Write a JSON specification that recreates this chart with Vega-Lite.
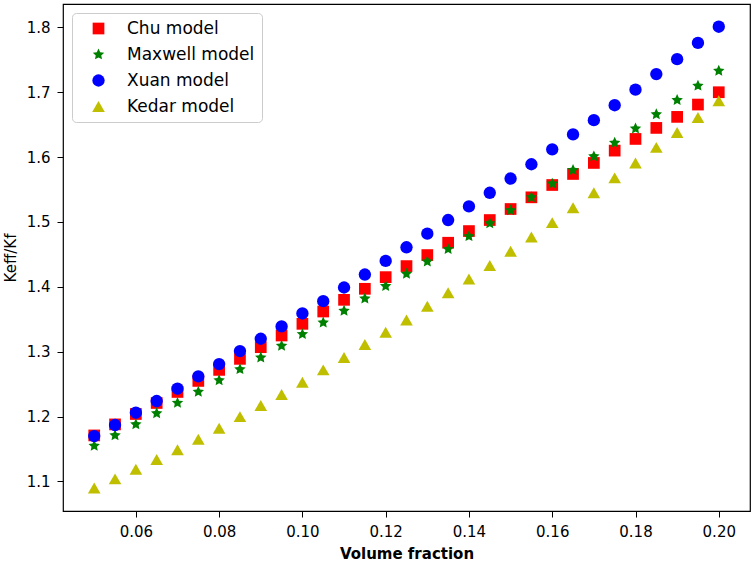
{
  "$schema": "https://vega.github.io/schema/vega-lite/v6.json",
  "width": 687,
  "height": 507,
  "autosize": {"type": "none"},
  "padding": {"left": 63, "top": 4, "right": 4, "bottom": 52},
  "background": "white",
  "config": {
    "view": {"stroke": "black", "strokeWidth": 1.2},
    "font": "DejaVu Sans",
    "axis": {
      "grid": false,
      "domain": false,
      "tickColor": "black",
      "tickSize": 6,
      "tickWidth": 1,
      "labelColor": "black",
      "labelFont": "DejaVu Sans",
      "labelFontSize": 15,
      "labelPadding": 7,
      "titleColor": "black",
      "titleFont": "DejaVu Sans",
      "titleFontSize": 15
    },
    "legend": {
      "orient": "top-left",
      "offset": 9,
      "fillColor": "white",
      "strokeColor": "#cccccc",
      "cornerRadius": 4,
      "padding": 7,
      "symbolOffset": 11,
      "symbolStrokeWidth": 0,
      "labelFont": "DejaVu Sans",
      "labelFontSize": 17,
      "labelColor": "black",
      "labelOffset": 20,
      "rowPadding": 8
    }
  },
  "data": {
    "values": [
      {"phi": 0.05, "model": "Chu model", "keff": 1.171},
      {"phi": 0.055, "model": "Chu model", "keff": 1.188},
      {"phi": 0.06, "model": "Chu model", "keff": 1.204},
      {"phi": 0.065, "model": "Chu model", "keff": 1.221},
      {"phi": 0.07, "model": "Chu model", "keff": 1.238},
      {"phi": 0.075, "model": "Chu model", "keff": 1.255},
      {"phi": 0.08, "model": "Chu model", "keff": 1.272},
      {"phi": 0.085, "model": "Chu model", "keff": 1.289},
      {"phi": 0.09, "model": "Chu model", "keff": 1.307},
      {"phi": 0.095, "model": "Chu model", "keff": 1.325},
      {"phi": 0.1, "model": "Chu model", "keff": 1.343},
      {"phi": 0.105, "model": "Chu model", "keff": 1.362},
      {"phi": 0.11, "model": "Chu model", "keff": 1.38},
      {"phi": 0.115, "model": "Chu model", "keff": 1.397},
      {"phi": 0.12, "model": "Chu model", "keff": 1.415},
      {"phi": 0.125, "model": "Chu model", "keff": 1.432},
      {"phi": 0.13, "model": "Chu model", "keff": 1.449},
      {"phi": 0.135, "model": "Chu model", "keff": 1.468},
      {"phi": 0.14, "model": "Chu model", "keff": 1.486},
      {"phi": 0.145, "model": "Chu model", "keff": 1.503},
      {"phi": 0.15, "model": "Chu model", "keff": 1.52},
      {"phi": 0.155, "model": "Chu model", "keff": 1.538},
      {"phi": 0.16, "model": "Chu model", "keff": 1.557},
      {"phi": 0.165, "model": "Chu model", "keff": 1.574},
      {"phi": 0.17, "model": "Chu model", "keff": 1.591},
      {"phi": 0.175, "model": "Chu model", "keff": 1.61},
      {"phi": 0.18, "model": "Chu model", "keff": 1.628},
      {"phi": 0.185, "model": "Chu model", "keff": 1.645},
      {"phi": 0.19, "model": "Chu model", "keff": 1.662},
      {"phi": 0.195, "model": "Chu model", "keff": 1.681},
      {"phi": 0.2, "model": "Chu model", "keff": 1.7},
      {"phi": 0.05, "model": "Maxwell model", "keff": 1.155},
      {"phi": 0.055, "model": "Maxwell model", "keff": 1.171},
      {"phi": 0.06, "model": "Maxwell model", "keff": 1.188},
      {"phi": 0.065, "model": "Maxwell model", "keff": 1.205},
      {"phi": 0.07, "model": "Maxwell model", "keff": 1.221},
      {"phi": 0.075, "model": "Maxwell model", "keff": 1.238},
      {"phi": 0.08, "model": "Maxwell model", "keff": 1.256},
      {"phi": 0.085, "model": "Maxwell model", "keff": 1.273},
      {"phi": 0.09, "model": "Maxwell model", "keff": 1.291},
      {"phi": 0.095, "model": "Maxwell model", "keff": 1.309},
      {"phi": 0.1, "model": "Maxwell model", "keff": 1.327},
      {"phi": 0.105, "model": "Maxwell model", "keff": 1.345},
      {"phi": 0.11, "model": "Maxwell model", "keff": 1.363},
      {"phi": 0.115, "model": "Maxwell model", "keff": 1.382},
      {"phi": 0.12, "model": "Maxwell model", "keff": 1.401},
      {"phi": 0.125, "model": "Maxwell model", "keff": 1.42},
      {"phi": 0.13, "model": "Maxwell model", "keff": 1.439},
      {"phi": 0.135, "model": "Maxwell model", "keff": 1.458},
      {"phi": 0.14, "model": "Maxwell model", "keff": 1.478},
      {"phi": 0.145, "model": "Maxwell model", "keff": 1.498},
      {"phi": 0.15, "model": "Maxwell model", "keff": 1.518},
      {"phi": 0.155, "model": "Maxwell model", "keff": 1.538},
      {"phi": 0.16, "model": "Maxwell model", "keff": 1.559},
      {"phi": 0.165, "model": "Maxwell model", "keff": 1.58},
      {"phi": 0.17, "model": "Maxwell model", "keff": 1.601},
      {"phi": 0.175, "model": "Maxwell model", "keff": 1.622},
      {"phi": 0.18, "model": "Maxwell model", "keff": 1.644},
      {"phi": 0.185, "model": "Maxwell model", "keff": 1.666},
      {"phi": 0.19, "model": "Maxwell model", "keff": 1.688},
      {"phi": 0.195, "model": "Maxwell model", "keff": 1.71},
      {"phi": 0.2, "model": "Maxwell model", "keff": 1.733},
      {"phi": 0.05, "model": "Xuan model", "keff": 1.17},
      {"phi": 0.055, "model": "Xuan model", "keff": 1.187},
      {"phi": 0.06, "model": "Xuan model", "keff": 1.206},
      {"phi": 0.065, "model": "Xuan model", "keff": 1.224},
      {"phi": 0.07, "model": "Xuan model", "keff": 1.243},
      {"phi": 0.075, "model": "Xuan model", "keff": 1.262},
      {"phi": 0.08, "model": "Xuan model", "keff": 1.281},
      {"phi": 0.085, "model": "Xuan model", "keff": 1.301},
      {"phi": 0.09, "model": "Xuan model", "keff": 1.32},
      {"phi": 0.095, "model": "Xuan model", "keff": 1.339},
      {"phi": 0.1, "model": "Xuan model", "keff": 1.359},
      {"phi": 0.105, "model": "Xuan model", "keff": 1.378},
      {"phi": 0.11, "model": "Xuan model", "keff": 1.399},
      {"phi": 0.115, "model": "Xuan model", "keff": 1.419},
      {"phi": 0.12, "model": "Xuan model", "keff": 1.44},
      {"phi": 0.125, "model": "Xuan model", "keff": 1.461},
      {"phi": 0.13, "model": "Xuan model", "keff": 1.482},
      {"phi": 0.135, "model": "Xuan model", "keff": 1.503},
      {"phi": 0.14, "model": "Xuan model", "keff": 1.524},
      {"phi": 0.145, "model": "Xuan model", "keff": 1.545},
      {"phi": 0.15, "model": "Xuan model", "keff": 1.567},
      {"phi": 0.155, "model": "Xuan model", "keff": 1.589},
      {"phi": 0.16, "model": "Xuan model", "keff": 1.612},
      {"phi": 0.165, "model": "Xuan model", "keff": 1.635},
      {"phi": 0.17, "model": "Xuan model", "keff": 1.657},
      {"phi": 0.175, "model": "Xuan model", "keff": 1.68},
      {"phi": 0.18, "model": "Xuan model", "keff": 1.704},
      {"phi": 0.185, "model": "Xuan model", "keff": 1.728},
      {"phi": 0.19, "model": "Xuan model", "keff": 1.751},
      {"phi": 0.195, "model": "Xuan model", "keff": 1.776},
      {"phi": 0.2, "model": "Xuan model", "keff": 1.801},
      {"phi": 0.05, "model": "Kedar model", "keff": 1.09},
      {"phi": 0.055, "model": "Kedar model", "keff": 1.104},
      {"phi": 0.06, "model": "Kedar model", "keff": 1.119},
      {"phi": 0.065, "model": "Kedar model", "keff": 1.134},
      {"phi": 0.07, "model": "Kedar model", "keff": 1.149},
      {"phi": 0.075, "model": "Kedar model", "keff": 1.165},
      {"phi": 0.08, "model": "Kedar model", "keff": 1.182},
      {"phi": 0.085, "model": "Kedar model", "keff": 1.2},
      {"phi": 0.09, "model": "Kedar model", "keff": 1.217},
      {"phi": 0.095, "model": "Kedar model", "keff": 1.234},
      {"phi": 0.1, "model": "Kedar model", "keff": 1.253},
      {"phi": 0.105, "model": "Kedar model", "keff": 1.272},
      {"phi": 0.11, "model": "Kedar model", "keff": 1.291},
      {"phi": 0.115, "model": "Kedar model", "keff": 1.311},
      {"phi": 0.12, "model": "Kedar model", "keff": 1.33},
      {"phi": 0.125, "model": "Kedar model", "keff": 1.349},
      {"phi": 0.13, "model": "Kedar model", "keff": 1.37},
      {"phi": 0.135, "model": "Kedar model", "keff": 1.391},
      {"phi": 0.14, "model": "Kedar model", "keff": 1.412},
      {"phi": 0.145, "model": "Kedar model", "keff": 1.433},
      {"phi": 0.15, "model": "Kedar model", "keff": 1.455},
      {"phi": 0.155, "model": "Kedar model", "keff": 1.477},
      {"phi": 0.16, "model": "Kedar model", "keff": 1.499},
      {"phi": 0.165, "model": "Kedar model", "keff": 1.522},
      {"phi": 0.17, "model": "Kedar model", "keff": 1.545},
      {"phi": 0.175, "model": "Kedar model", "keff": 1.568},
      {"phi": 0.18, "model": "Kedar model", "keff": 1.591},
      {"phi": 0.185, "model": "Kedar model", "keff": 1.615},
      {"phi": 0.19, "model": "Kedar model", "keff": 1.638},
      {"phi": 0.195, "model": "Kedar model", "keff": 1.661},
      {"phi": 0.2, "model": "Kedar model", "keff": 1.687}
    ]
  },
  "mark": {"type": "point", "filled": true, "opacity": 1},
  "encoding": {
    "x": {
      "field": "phi",
      "type": "quantitative",
      "scale": {"domain": [0.0425, 0.2075], "nice": false, "zero": false},
      "axis": {
        "values": [0.06, 0.08, 0.1, 0.12, 0.14, 0.16, 0.18, 0.2],
        "format": ".2f",
        "title": "Volume fraction",
        "titleFontWeight": "bold",
        "titlePadding": 7
      }
    },
    "y": {
      "field": "keff",
      "type": "quantitative",
      "scale": {"domain": [1.0545, 1.836], "nice": false, "zero": false},
      "axis": {
        "values": [1.1, 1.2, 1.3, 1.4, 1.5, 1.6, 1.7, 1.8],
        "format": ".1f",
        "title": "Keff/Kf",
        "titleFontWeight": "normal",
        "titlePadding": 8
      }
    },
    "color": {
      "field": "model",
      "type": "nominal",
      "scale": {
        "domain": ["Chu model", "Maxwell model", "Xuan model", "Kedar model"],
        "range": ["#ff0000", "#008000", "#0000ff", "#bfbf00"]
      },
      "legend": {"title": null}
    },
    "shape": {
      "field": "model",
      "type": "nominal",
      "scale": {
        "domain": ["Chu model", "Maxwell model", "Xuan model", "Kedar model"],
        "range": ["square", "M0,-1L0.2821,-0.3883L0.9511,-0.309L0.4565,0.1483L0.5878,0.809L0,0.48L-0.5878,0.809L-0.4565,0.1483L-0.9511,-0.309L-0.2821,-0.3883Z", "circle", "triangle-up"]
      },
      "legend": {"title": null}
    },
    "size": {
      "field": "model",
      "type": "nominal",
      "scale": {
        "domain": ["Chu model", "Maxwell model", "Xuan model", "Kedar model"],
        "range": [137, 160, 151, 145]
      },
      "legend": {"title": null}
    }
  }
}
